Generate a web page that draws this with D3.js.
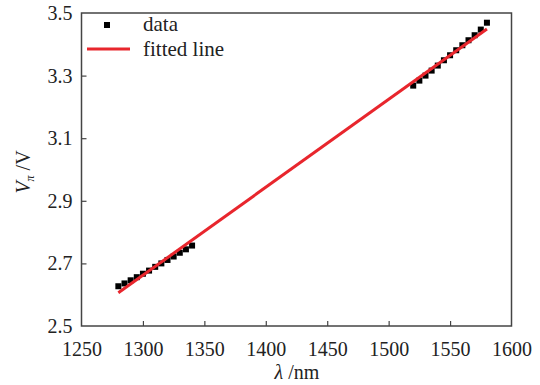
<!DOCTYPE html>
<html>
<head>
<meta charset="utf-8">
<style>
    body { margin: 0; background: white; }
    svg text { font-family: "Liberation Serif", "Times New Roman", "DejaVu Serif", serif !important; }
</style>
</head>
<body>
<svg width="540" height="385"></svg>
<script src="https://d3js.org/d3.v7.min.js"></script>
<script>
    // wavelength (nm) and half-wave voltage (V)
    let lambdaLeft = [1280, 1285, 1290, 1295, 1300, 1305, 1310, 1315, 1320, 1325, 1330, 1335, 1340];
    let vLeft = [2.627, 2.636, 2.646, 2.656, 2.667, 2.677, 2.689, 2.700, 2.711, 2.722, 2.734, 2.745, 2.757];
    let lambdaRight = [1520, 1525, 1530, 1535, 1540, 1545, 1550, 1555, 1560, 1565, 1570, 1575, 1580];
    let vRight = [3.268, 3.284, 3.300, 3.316, 3.332, 3.349, 3.365, 3.381, 3.397, 3.413, 3.429, 3.447, 3.469];
    // fitted line end points
    let fitLambda = [1280, 1580];
    let fitV = [2.606, 3.449];

    let xTicks = [1250, 1300, 1350, 1400, 1450, 1500, 1550, 1600];
    let yTicks = [2.5, 2.7, 2.9, 3.1, 3.3, 3.5];

    let svg = d3.select("svg");
    let mLeft = 81.5, mRight = 511.5, mTop = 13, mBottom = 326;

    let x = d3.scaleLinear().domain([1250, 1600]).range([mLeft, mRight]);
    let y = d3.scaleLinear().domain([2.5, 3.5]).range([mBottom, mTop]);

    // axes with inward ticks
    let xAxis = svg.append("g")
        .attr("transform", `translate(0,${mBottom})`)
        .call(d3.axisBottom(x).tickValues(xTicks).tickSize(-5).tickPadding(16).tickFormat(d3.format("d")));
    let yAxis = svg.append("g")
        .attr("transform", `translate(${mLeft},0)`)
        .call(d3.axisLeft(y).tickValues(yTicks).tickSize(-5).tickPadding(9).tickFormat(d3.format(".1f")));

    [xAxis, yAxis].forEach(a => {
        a.attr("font-family", null);
        a.select(".domain").remove();
        a.selectAll("line").attr("stroke", "#444").attr("stroke-width", 1.2);
        a.selectAll("text").attr("font-size", 20).attr("fill", "#222");
    });
    // no tick marks at the frame corners
    xAxis.selectAll(".tick line").filter(d => d == 1250 || d == 1600).remove();
    yAxis.selectAll(".tick line").filter(d => d == 2.5 || d == 3.5).remove();

    svg.append("rect")
        .attr("x", mLeft).attr("y", mTop)
        .attr("width", mRight - mLeft).attr("height", mBottom - mTop)
        .attr("fill", "none").attr("stroke", "#444").attr("stroke-width", 1.5);

    // data
    let pts = lambdaLeft.map((l, i) => [l, vLeft[i]])
        .concat(lambdaRight.map((l, i) => [l, vRight[i]]));

    svg.append("g")
        .selectAll("rect")
        .data(pts)
        .join("rect")
        .attr("x", d => x(d[0]) - 3)
        .attr("y", d => y(d[1]) - 3)
        .attr("width", 6)
        .attr("height", 6)
        .attr("fill", "black");

    svg.append("path")
        .datum(fitLambda.map((l, i) => [l, fitV[i]]))
        .attr("d", d3.line().x(d => x(d[0])).y(d => y(d[1])))
        .attr("stroke", "#e8262d")
        .attr("stroke-width", 3)
        .attr("fill", "none");

    // legend
    svg.append("rect").attr("x", 104).attr("y", 22).attr("width", 6).attr("height", 6).attr("fill", "black");
    svg.append("text").attr("x", 143).attr("y", 31).attr("font-size", 21).attr("fill", "#222").text("data");
    svg.append("line").attr("x1", 87).attr("x2", 130).attr("y1", 49).attr("y2", 49)
        .attr("stroke", "#e8262d").attr("stroke-width", 3);
    svg.append("text").attr("x", 143).attr("y", 56).attr("font-size", 21).attr("fill", "#222").text("fitted line");

    // axis titles
    let xt = svg.append("text").attr("x", 297).attr("y", 379).attr("text-anchor", "middle")
        .attr("font-size", 20).attr("fill", "#222");
    xt.append("tspan").attr("font-style", "italic").text("λ");
    xt.append("tspan").text(" /nm");

    let yt = svg.append("text")
        .attr("transform", "translate(30,172) rotate(-90)")
        .attr("text-anchor", "middle").attr("font-size", 20).attr("fill", "#222");
    yt.append("tspan").attr("font-style", "italic").text("V");
    yt.append("tspan").attr("font-size", 12).attr("font-style", "italic").attr("dy", 4).text("π");
    yt.append("tspan").attr("dy", -4).text(" /V");
</script>
</body>
</html>
